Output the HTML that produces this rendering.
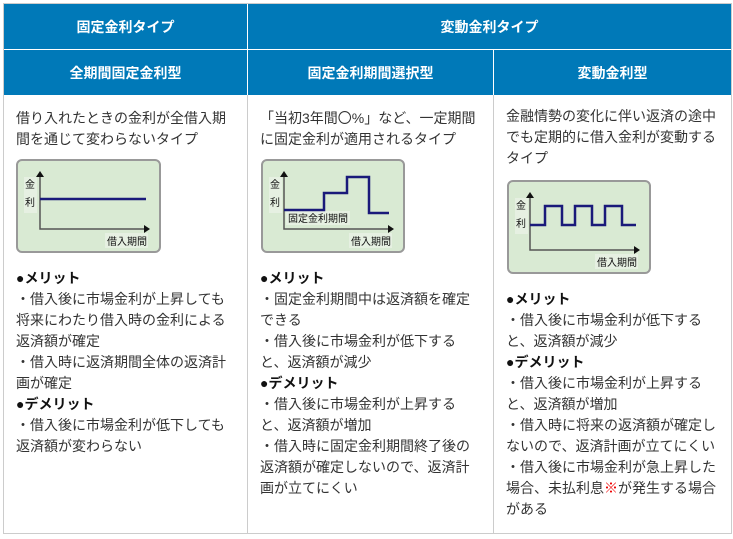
<!DOCTYPE html>
<html><head><meta charset="utf-8"><style>
*{margin:0;padding:0;box-sizing:border-box}
body{width:733px;height:539px;background:#fff;position:relative;overflow:hidden;font-family:"Liberation Sans","Noto Sans CJK JP",sans-serif}
.h{position:absolute;background:#0079b8;color:#fff;font-weight:bold;font-size:14px;display:flex;align-items:center;justify-content:center}
.t{position:absolute;font-size:14px;line-height:21px;color:#333;white-space:nowrap}
.t b{color:#111}
.c{position:absolute;border:2px solid #999;border-radius:6px;background:#d9ead3}
.r{color:#e00}
.j{font-family:"Noto Sans CJK JP",sans-serif}
</style></head><body>
<div style="position:absolute;left:3px;top:3px;width:729px;height:531px;border:1px solid #ccc"></div>
<div style="position:absolute;left:247px;top:95px;width:1px;height:439px;background:#ccc"></div>
<div style="position:absolute;left:493px;top:95px;width:1px;height:439px;background:#ccc"></div>
<div class="h" style="left:4px;top:4px;width:243px;height:45px">固定金利タイプ</div>
<div class="h" style="left:248px;top:4px;width:483px;height:45px">変動金利タイプ</div>
<div class="h" style="left:4px;top:50px;width:243px;height:45px">全期間固定金利型</div>
<div class="h" style="left:248px;top:50px;width:245px;height:45px">固定金利期間選択型</div>
<div class="h" style="left:494px;top:50px;width:237px;height:45px">変動金利型</div>

<div class="t" style="left:16px;top:108px">借り入れたときの金利が全借入期<br>間を通じて変わらないタイプ</div>
<div class="t" style="left:16px;top:268px"><b>●メリット</b><br>・借入後に市場金利が上昇しても<br>将来にわたり借入時の金利による<br>返済額が確定<br>・借入時に返済期間全体の返済計<br>画が確定<br><b>●デメリット</b><br>・借入後に市場金利が低下しても<br>返済額が変わらない</div>

<div class="t" style="left:260px;top:108px">「当初3年間<span class="j">〇</span>%」など、一定期間<br>に固定金利が適用されるタイプ</div>
<div class="t" style="left:260px;top:268px"><b>●メリット</b><br>・固定金利期間中は返済額を確定<br>できる<br>・借入後に市場金利が低下する<br>と、返済額が減少<br><b>●デメリット</b><br>・借入後に市場金利が上昇する<br>と、返済額が増加<br>・借入時に固定金利期間終了後の<br>返済額が確定しないので、返済計<br>画が立てにくい</div>

<div class="t" style="left:506px;top:106px">金融情勢の変化に伴い返済の途中<br>でも定期的に借入金利が変動する<br>タイプ</div>
<div class="t" style="left:506px;top:289px"><b>●メリット</b><br>・借入後に市場金利が低下する<br>と、返済額が減少<br><b>●デメリット</b><br>・借入後に市場金利が上昇する<br>と、返済額が増加<br>・借入時に将来の返済額が確定し<br>ないので、返済計画が立てにくい<br>・借入後に市場金利が急上昇した<br>場合、未払利息<span class="r">※</span>が発生する場合<br>がある</div>

<div class="c" style="left:16px;top:159px;width:145px;height:94px"></div>
<div class="c" style="left:261px;top:159px;width:144px;height:94px"></div>
<div class="c" style="left:507px;top:180px;width:144px;height:94px"></div>
<svg width="733" height="539" style="position:absolute;left:0;top:0" font-family="Liberation Sans,Noto Sans CJK JP,sans-serif" font-size="10">
<g fill="#e6f0e2">
<rect x="24" y="177" width="13" height="36"/><rect x="105" y="233" width="43" height="15"/>
<rect x="269" y="177" width="13" height="36"/><rect x="349" y="233" width="43" height="15"/><rect x="286" y="211" width="64" height="14"/>
<rect x="515" y="198" width="13" height="36"/><rect x="595" y="254" width="43" height="15"/>
</g>
<g stroke="#555" stroke-width="1.5" fill="none">
<path d="M40 176V229H144"/><path d="M284 176V229H388"/><path d="M530 197V250H634"/>
</g>
<g fill="#111">
<path d="M36 177L40 171L44 177Z"/><path d="M144 225L150 229L144 233Z"/>
<path d="M280 177L284 171L288 177Z"/><path d="M388 225L394 229L388 233Z"/>
<path d="M526 198L530 192L534 198Z"/><path d="M634 246L640 250L634 254Z"/>
</g>
<g stroke="#1a1a7a" stroke-width="2.5" fill="none">
<path d="M40 199H146"/>
<path d="M284 210H324V193H347V177H369V213H389"/>
<path d="M530 225H545V206H562V225H575V206H592V225H605V206H622V225H636"/>
</g>
<g fill="#111">
<text x="25" y="188">金</text><text x="25" y="206">利</text><text x="107" y="245">借入期間</text>
<text x="270" y="188">金</text><text x="270" y="206">利</text><text x="351" y="245">借入期間</text><text x="288" y="222">固定金利期間</text>
<text x="516" y="209">金</text><text x="516" y="227">利</text><text x="597" y="266">借入期間</text>
</g>
</svg>
</body></html>
